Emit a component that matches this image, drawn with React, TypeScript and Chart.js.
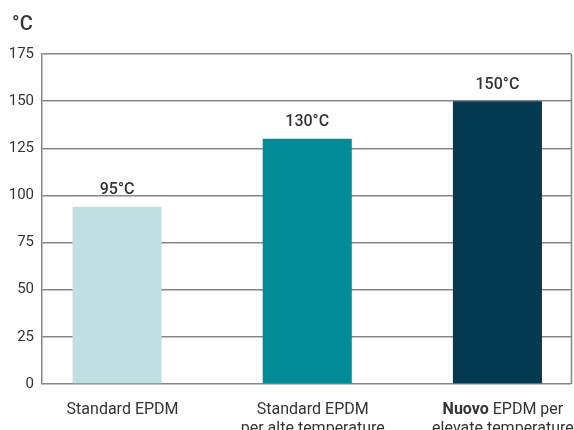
import React, { useEffect, useRef } from "react";
import { Chart, registerables } from "chart.js";

Chart.register(...registerables);

const categoryLines: { bold: string; rest: string }[][] = [
  [{ bold: "", rest: "Standard EPDM" }],
  [{ bold: "", rest: "Standard EPDM" }, { bold: "", rest: "per alte temperature" }],
  [{ bold: "Nuovo", rest: " EPDM per" }, { bold: "", rest: "elevate temperature" }],
];
const values = [94, 130, 150];
const valueLabels = ["95°C", "130°C", "150°C"];
const barColors = ["#c0dfe3", "#008b97", "#033a52"];
const yTicks = [0, 25, 50, 75, 100, 125, 150, 175];
const unitLabel = "°C";

const FONT = "Roboto";
const GRID = "#858585";
const TEXT = "#333333";

export default function App() {
  const ref = useRef<HTMLCanvasElement | null>(null);

  useEffect(() => {
    document.body.style.margin = "0";
    const canvas = ref.current;
    if (!canvas) return;

    const overlay = {
      id: "overlay",
      afterDraw(chart: any) {
        const ctx = chart.ctx as CanvasRenderingContext2D;
        const area = chart.chartArea;
        ctx.save();
        // right border
        ctx.strokeStyle = GRID;
        ctx.lineWidth = 1.5;
        ctx.beginPath();
        ctx.moveTo(area.right + 0.5, area.top);
        ctx.lineTo(area.right + 0.5, area.bottom);
        ctx.stroke();

        // unit title
        ctx.fillStyle = TEXT;
        ctx.font = `500 20px ${FONT}`;
        ctx.textAlign = "left";
        ctx.textBaseline = "alphabetic";
        ctx.fillText(unitLabel, 12, 30);

        // value labels
        const meta = chart.getDatasetMeta(0);
        ctx.font = `500 16px ${FONT}`;
        ctx.textAlign = "center";
        meta.data.forEach((el: any, i: number) => {
          ctx.fillText(valueLabels[i], el.x, el.y - 12.5);
        });

        // category labels
        meta.data.forEach((el: any, i: number) => {
          const lines = categoryLines[i];
          lines.forEach((ln, j) => {
            const y = area.bottom + 30 + j * 18.5;
            ctx.font = `bold 16px ${FONT}`;
            const wb = ln.bold ? ctx.measureText(ln.bold).width : 0;
            ctx.font = `400 16px ${FONT}`;
            const wr = ctx.measureText(ln.rest).width;
            const cx = el.x + 5.5;
            let x = cx - (wb + wr) / 2;
            ctx.textAlign = "left";
            if (ln.bold) {
              ctx.font = `bold 16px ${FONT}`;
              ctx.fillText(ln.bold, x, y);
              x += wb;
            }
            ctx.font = `400 16px ${FONT}`;
            ctx.fillText(ln.rest, x, y);
          });
        });
        ctx.restore();
      },
    };

    const chart = new Chart(canvas, {
      type: "bar",
      data: {
        datasets: [
          {
            data: values.map((v, i) => ({ x: i, y: v })),
            backgroundColor: barColors,
            borderWidth: 0,
            barPercentage: 89 / 190,
            categoryPercentage: 1,
          },
        ],
      },
      options: {
        responsive: false,
        animation: false,
        layout: { padding: { top: 54, right: 3, bottom: 46, left: 0 } },
        plugins: {
          legend: { display: false },
          tooltip: { enabled: false },
          title: { display: false },
        },
        scales: {
          x: {
            type: "linear",
            display: false,
            offset: false,
            min: -75 / 190,
            max: 453.5 / 190 + 0,
            afterBuildTicks: (scale: any) => {
              scale.ticks = values.map((_, i) => ({ value: i }));
            },
          },
          y: {
            min: yTicks[0],
            max: yTicks[yTicks.length - 1],
            afterFit: (scale: any) => {
              scale.width = 42;
            },
            afterBuildTicks: (scale: any) => {
              scale.ticks = yTicks.map((v) => ({ value: v }));
            },
            ticks: {
              color: TEXT,
              padding: 8,
              font: { family: FONT, size: 15, weight: "400" },
            },
            grid: {
              color: GRID,
              lineWidth: 1.5,
              drawTicks: false,
            },
            border: { display: true, color: GRID, width: 1.5 },
          },
        },
      },
      plugins: [overlay],
    } as any);

    return () => chart.destroy();
  }, []);

  return (
    <div style={{ position: "absolute", left: 0, top: 0, width: 574, height: 430, background: "#fff" }}>
      <canvas ref={ref} width={574} height={430} style={{ width: 574, height: 430, display: "block" }} />
    </div>
  );
}
